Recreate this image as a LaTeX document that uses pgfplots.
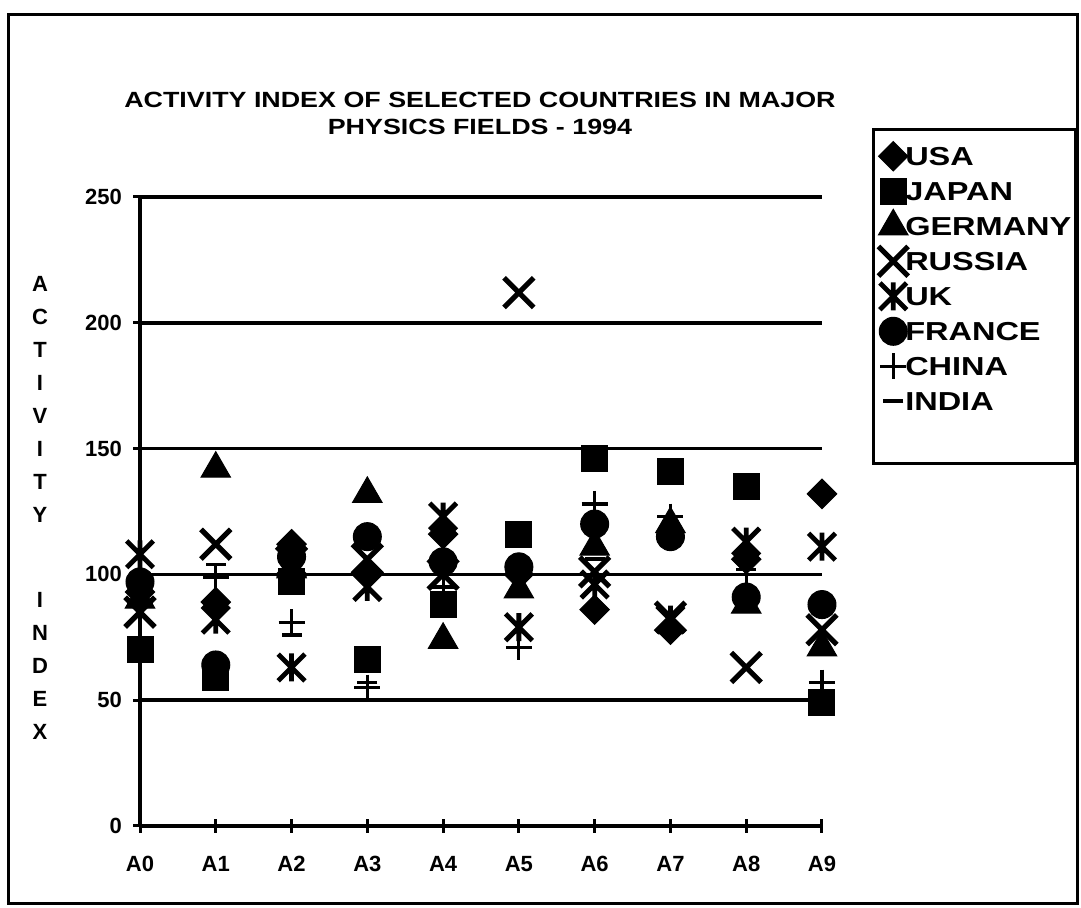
\documentclass[border=0pt]{standalone}
\usepackage{fontspec}
\setmainfont{Liberation Sans}
\newfontfamily\widefont{Liberation Sans}[FakeStretch=1.22]
\newfontfamily\legendfont{Liberation Sans}[FakeStretch=1.25]
\usepackage{pgfplots}
\usepackage{pgfplotstable}
\pgfplotsset{compat=1.18}

% Activity index by physics field (A0--A9), 1994
\pgfplotstableread{
idx USA JAPAN GERMANY RUSSIA UK FRANCE CHINA INDIA
0   93  70    90      85     108 97     88    100
1   89  59    142     112    82  64     99    104
2   112 97    102     105    63  107    81    76
3   100 66    132     106    95  115    55    57
4   116 88    74      100    123 105    95    92
5   100 116   94      212    79  103    71    100
6   86  146   111     101    96  120    128   106
7   78  141   120     83     82  115    123   113
8   106 135   88      63     113 91     100   102
9   132 49    71      78     111 88     57    52
}\activity

% six-armed star: an x with a vertical bar through it
\pgfdeclareplotmark{xbar}{%
  \pgfpathmoveto{\pgfqpointpolar{45}{1.35\pgfplotmarksize}}%
  \pgfpathlineto{\pgfqpointpolar{225}{1.35\pgfplotmarksize}}%
  \pgfpathmoveto{\pgfqpointpolar{135}{1.35\pgfplotmarksize}}%
  \pgfpathlineto{\pgfqpointpolar{315}{1.35\pgfplotmarksize}}%
  \pgfpathmoveto{\pgfqpoint{0pt}{\pgfplotmarksize}}%
  \pgfpathlineto{\pgfqpoint{0pt}{-\pgfplotmarksize}}%
  \pgfusepathqstroke
}

\newcommand{\chartfont}{\fontsize{11}{13.5}\selectfont\bfseries}
\newcommand{\titlefont}{\widefont\fontsize{11}{13.5}\selectfont\bfseries}
\newcommand{\keyfont}{\legendfont\fontsize{13}{15}\selectfont\bfseries}

\begin{document}
\begin{tikzpicture}[x=1pt,y=1pt]
\useasboundingbox (0,0) rectangle (540.5,454);
% outer frame
\draw[line width=1.5pt] (4,2) rectangle (538.5,446.5);
\begin{axis}[
  at={(70pt,41pt)}, anchor=south west,
  scale only axis, width=341pt, height=314.5pt,
  xmin=0, xmax=9, ymin=0, ymax=250,
  clip=false,
  axis x line=bottom, axis y line=left,
  axis line style={line width=1.8pt, -},
  xtick={0,...,9},
  xticklabels={A0,A1,A2,A3,A4,A5,A6,A7,A8,A9},
  ytick={0,50,...,250},
  ymajorgrids,
  grid style={line width=1.8pt, black},
  tick align=center,
  major tick length=7pt,
  tick style={line width=1.5pt, black},
  tick label style={font=\chartfont},
  /pgf/number format/assume math mode=true,
  yticklabel style={xshift=-2pt},
  xticklabel style={yshift=-8pt},
  title={ACTIVITY INDEX OF SELECTED COUNTRIES IN MAJOR\\PHYSICS FIELDS - 1994},
  title style={font=\titlefont, align=center, at={(0.4985,1.1144)}, anchor=center},
  legend style={at={(1.073,1.11)}, anchor=north west, draw=black,
    line width=1.5pt, font=\keyfont, inner xsep=2pt, inner ysep=8.75pt,
    row sep=8pt, column sep=0pt,
    nodes={inner sep=0pt, text height=9.5pt, text depth=0pt}},
  legend cell align=left,
  legend image code/.code={%
    \path[draw=none, fill=none] (0pt,-4.75pt) rectangle (14pt,4.75pt);
    \pgfinterruptboundingbox
    \draw[#1] plot coordinates {(8pt,0pt)};
    \endpgfinterruptboundingbox
  },
  every axis plot/.append style={only marks, black},
]
\addplot[mark=square*, mark size=5.2pt, mark options={rotate=45, fill=black, line width=0.5pt}]
  table[x=idx, y=USA] {\activity};
\addlegendentry{USA}
\addplot[mark=square*, mark size=6.5pt, mark options={fill=black, line width=0.5pt}]
  table[x=idx, y=JAPAN] {\activity};
\addlegendentry{JAPAN}
\addplot[mark=triangle*, mark size=8.5pt, mark options={fill=black, line width=0.5pt}]
  table[x=idx, y=GERMANY] {\activity};
\addlegendentry{GERMANY}
\addplot[mark=x, mark size=10.5pt, mark options={line width=2.6pt}]
  table[x=idx, y=RUSSIA] {\activity};
\addlegendentry{RUSSIA}
\addplot[mark=xbar, mark size=7pt, mark options={line width=2.4pt}]
  table[x=idx, y=UK] {\activity};
\addlegendentry{UK}
\addplot[mark=*, mark size=7pt, mark options={fill=black, line width=0.5pt}]
  table[x=idx, y=FRANCE] {\activity};
\addlegendentry{FRANCE}
\addplot[mark=+, mark size=6.5pt, mark options={line width=1.6pt}]
  table[x=idx, y=CHINA] {\activity};
\addlegendentry{CHINA}
\addplot[mark=-, mark size=5pt, mark options={line width=1.8pt}]
  table[x=idx, y=INDIA] {\activity};
\addlegendentry{INDIA}
\addlegendimage{empty legend}
\addlegendentry{}
\end{axis}
% stacked axis title
\node[font=\fontsize{11}{16.5}\selectfont\bfseries, align=center] at (20,200)
  {A\\C\\T\\I\\V\\I\\T\\Y\\[26pt]I\\N\\D\\E\\X};
\end{tikzpicture}
\end{document}
